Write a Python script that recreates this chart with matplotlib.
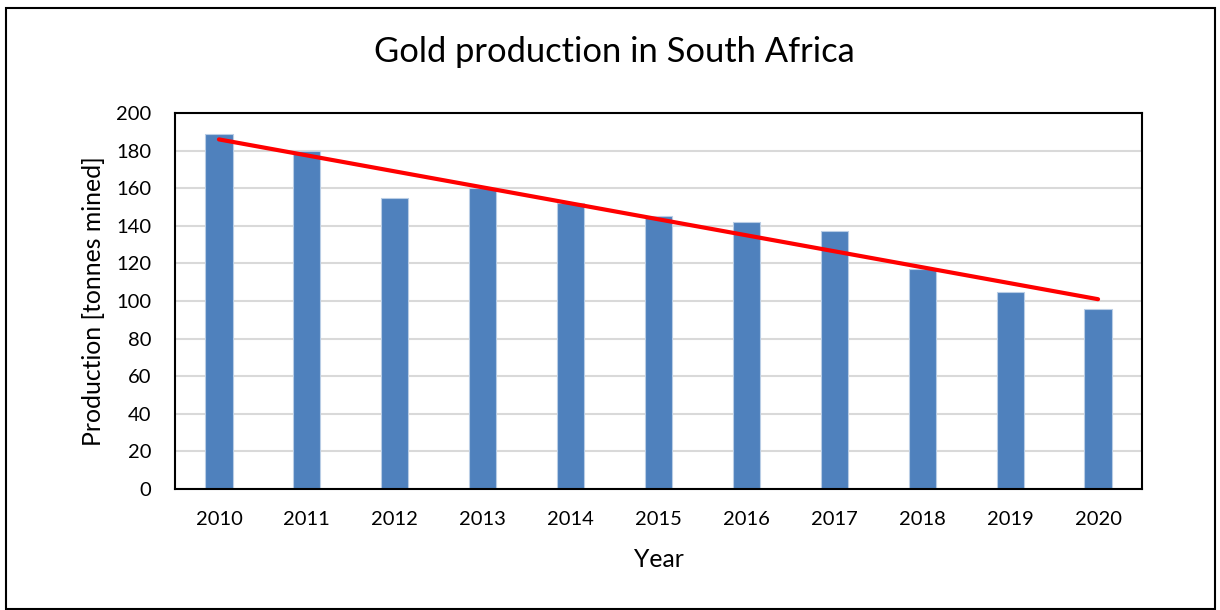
import matplotlib.pyplot as plt
import numpy as np
from matplotlib.patches import Rectangle

years = ["2010", "2011", "2012", "2013", "2014", "2015", "2016", "2017", "2018", "2019", "2020"]
production = [189, 180, 155, 160, 152, 145, 142, 137, 117, 105, 96]

plt.rcParams['font.family'] = ['Lato', 'DejaVu Sans']

fig = plt.figure(figsize=(12.2, 6.1), dpi=100)
ax = fig.add_axes([175 / 1220, 1 - 489 / 610, (1142 - 175) / 1220, (489 - 113) / 610])

x = np.arange(len(years))
ax.bar(x, production, width=0.31, color="#4f81bd", edgecolor="#b9cde5", linewidth=0.8, zorder=2)

# linear trendline
coef = np.polyfit(x, production, 1)
ax.plot(x, np.polyval(coef, x), color="#ff0000", linewidth=3, solid_capstyle="round", zorder=3)

ax.set_xlim(-0.5, len(years) - 0.5)
ax.set_ylim(0, 200)
ax.set_yticks(range(0, 201, 20))
ax.set_xticks(x)
ax.set_xticklabels(years)
ax.tick_params(axis="both", length=0, labelsize=14.5)
ax.tick_params(axis="y", pad=17)
ax.tick_params(axis="x", pad=16)
ax.yaxis.grid(True, color="#d9d9d9", linewidth=1.5, zorder=0)
ax.set_axisbelow(True)
for s in ax.spines.values():
    s.set_linewidth(1.5)
    s.set_color("black")

ax.set_xlabel("Year", fontsize=17.8, labelpad=14)
ax.set_ylabel("Production [tonnes mined]", fontsize=17.8, labelpad=8)
fig.text(614 / 1220, 1 - 52 / 610, "Gold production in South Africa", fontsize=24.8,
         ha="center", va="center")

fig.patches.append(Rectangle((6 / 1220, 1 / 610), 1209 / 1220, 601 / 610,
                             transform=fig.transFigure, fill=False,
                             edgecolor="black", linewidth=1.5))

fig.savefig("out.png", dpi=100)
